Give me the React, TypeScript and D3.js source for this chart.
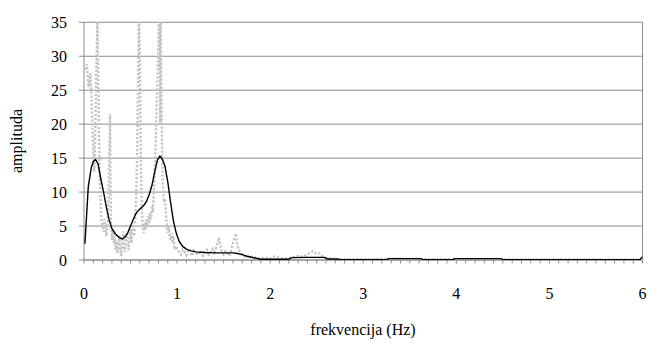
import React from "react";
import * as d3 from "d3";

const xTicks = [0, 1, 2, 3, 4, 5, 6];
const yTicks = [0, 5, 10, 15, 20, 25, 30, 35];

// smoothed spectrum (black)
const smoothSpectrum: [number, number][] = [
  [0.01, 2.4], [0.046, 10.8], [0.08, 13.7], [0.1, 14.5], [0.125, 14.8], [0.15, 14.2], [0.18, 12], [0.21, 10],
  [0.24, 7.8], [0.27, 5.9], [0.3, 4.6], [0.34, 3.8], [0.38, 3.3], [0.41, 3.1], [0.44, 3.4], [0.47, 4],
  [0.5, 5], [0.53, 6], [0.56, 6.9], [0.6, 7.5], [0.64, 8], [0.67, 8.6], [0.7, 9.6], [0.73, 11],
  [0.76, 13], [0.79, 14.8], [0.815, 15.3], [0.84, 14.9], [0.87, 13.8], [0.9, 11.5], [0.93, 8.5], [0.96, 5.8],
  [0.99, 4], [1.02, 2.8], [1.06, 2], [1.1, 1.6], [1.15, 1.35], [1.2, 1.2], [1.3, 1.1], [1.4, 1.05],
  [1.5, 1.05], [1.6, 1.05], [1.65, 0.95], [1.7, 0.8], [1.75, 0.55], [1.8, 0.4], [1.85, 0.25], [1.9, 0.12],
  [2.0, 0.1], [2.2, 0.1], [2.23, 0.35], [2.4, 0.38], [2.58, 0.38], [2.62, 0.15], [2.72, 0.15], [2.76, 0.03],
  [3.25, 0.03], [3.27, 0.2], [3.62, 0.2], [3.65, 0.03], [3.96, 0.03], [3.98, 0.2], [4.48, 0.2], [4.51, 0.03],
  [5.97, 0.03], [6.0, 0.5],
];

// raw spectrum (grey dotted)
const rawSpectrum: [number, number][] = [
  [0.02, 28], [0.03, 28.8], [0.04, 27], [0.05, 25.5], [0.06, 26.5], [0.07, 27.5], [0.08, 24], [0.09, 20],
  [0.1, 16], [0.11, 13], [0.12, 18], [0.13, 26], [0.14, 33], [0.145, 36], [0.15, 30], [0.16, 20],
  [0.17, 12], [0.18, 8], [0.19, 5.5], [0.2, 5], [0.21, 4.2], [0.22, 6], [0.23, 4.5], [0.24, 3.5],
  [0.25, 5], [0.26, 8], [0.27, 15], [0.28, 21.5], [0.285, 12], [0.29, 5], [0.3, 3], [0.31, 4.5],
  [0.32, 2.5], [0.33, 3.5], [0.34, 1.5], [0.35, 2.8], [0.36, 1], [0.37, 2.2], [0.38, 3.5], [0.39, 1.8],
  [0.4, 0.6], [0.41, 2.5], [0.42, 4.2], [0.43, 2], [0.44, 1.2], [0.45, 3], [0.46, 4], [0.47, 2.5],
  [0.48, 1.5], [0.49, 3.2], [0.5, 4.5], [0.51, 2.5], [0.52, 4], [0.53, 5], [0.54, 3.5], [0.55, 6],
  [0.56, 9], [0.57, 15], [0.58, 25], [0.59, 36], [0.6, 30], [0.61, 15], [0.62, 8], [0.63, 5],
  [0.64, 4], [0.65, 5.5], [0.66, 4.5], [0.67, 6], [0.68, 5], [0.69, 6.5], [0.7, 5.5], [0.71, 7],
  [0.72, 6], [0.73, 8], [0.74, 7], [0.75, 10], [0.76, 13], [0.77, 17], [0.78, 22], [0.79, 27],
  [0.8, 32], [0.805, 36], [0.81, 28], [0.815, 36], [0.82, 20], [0.825, 36], [0.83, 28], [0.835, 22],
  [0.84, 15], [0.85, 10], [0.86, 8.5], [0.87, 9], [0.88, 7], [0.89, 5], [0.9, 4], [0.91, 5],
  [0.92, 3.5], [0.93, 3], [0.94, 4], [0.95, 2.5], [0.96, 3.5], [0.97, 2], [0.98, 1.5], [0.99, 2],
  [1.0, 1.5], [1.02, 1.2], [1.04, 0.8], [1.06, 1.5], [1.08, 1.2], [1.1, 0.7], [1.12, 1.3], [1.14, 1],
  [1.16, 0.6], [1.18, 1.4], [1.2, 1.1], [1.22, 0.7], [1.24, 1.3], [1.26, 1], [1.28, 0.6], [1.3, 1.2],
  [1.32, 1.5], [1.34, 0.8], [1.36, 1.2], [1.38, 1.6], [1.4, 1.1], [1.42, 1.8], [1.44, 2.8], [1.45, 3.3],
  [1.46, 2.5], [1.48, 1.2], [1.5, 0.8], [1.52, 1.3], [1.54, 1], [1.56, 0.6], [1.58, 1.4], [1.6, 2.5],
  [1.62, 3.5], [1.63, 3.9], [1.64, 2.8], [1.66, 1.5], [1.68, 1.2], [1.7, 0.8], [1.72, 0.5], [1.75, 0.7],
  [1.78, 0.3], [1.8, 0.5], [1.85, 0.3], [1.9, 0.2], [1.95, 0.3], [2.0, 0.2], [2.05, 0.5], [2.1, 0.3],
  [2.15, 0.2], [2.2, 0.3], [2.25, 0.4], [2.3, 0.6], [2.35, 0.5], [2.4, 0.8], [2.43, 1.1], [2.46, 1.3],
  [2.5, 0.9], [2.53, 1], [2.56, 0.6], [2.6, 0.3], [2.7, 0.1], [3.0, 0.1], [3.3, 0.2], [3.5, 0.15],
  [4.0, 0.1], [6.0, 0.05],
];

const W = 649;
const H = 343;
const FONT = '"Liberation Serif", "DejaVu Serif", "Times New Roman", serif';

export default function App() {
  const x = d3.scaleLinear().domain([0, 6]).range([84, 642.5]);
  const y = d3.scaleLinear().domain([0, 35]).range([260, 22.3]);
  const line = d3
    .line<[number, number]>()
    .x((d) => x(d[0]))
    .y((d) => y(d[1]));
  const minor = d3.range(0, 61).map((i) => i / 10);
  const [x0, x1] = x.range();
  const [y0, y1] = y.range();
  const ts = { fontFamily: FONT, fontSize: "16px" } as React.CSSProperties;

  return (
    <svg
      width={W}
      height={H}
      style={{ position: "absolute", left: 0, top: 0, background: "#fff" }}
    >
      <defs>
        <clipPath id="plot">
          <rect x={x0} y={y1} width={x1 - x0} height={y0 - y1} />
        </clipPath>
      </defs>
      {yTicks.map((t) => (
        <line key={"g" + t} x1={x0} x2={x1} y1={y(t)} y2={y(t)} stroke="#8c8c8c" strokeWidth={1} />
      ))}
      <line x1={x1} x2={x1} y1={y1} y2={y0} stroke="#8c8c8c" strokeWidth={1} />
      <line x1={x0} x2={x0} y1={y1} y2={y0} stroke="#8c8c8c" strokeWidth={1} />
      {yTicks.map((t) => (
        <line key={"yt" + t} x1={x0 - 5} x2={x0} y1={y(t)} y2={y(t)} stroke="#8c8c8c" strokeWidth={1} />
      ))}
      {minor.map((t) => (
        <line key={"xt" + t} x1={x(t)} x2={x(t)} y1={y0} y2={y0 + 3.5} stroke="#8c8c8c" strokeWidth={1} />
      ))}
      <line x1={x0} x2={x1} y1={y0} y2={y0} stroke="#8c8c8c" strokeWidth={1} />
      <g clipPath="url(#plot)">
        <path
          d={line(rawSpectrum) || ""}
          fill="none"
          stroke="#c4c4c4"
          strokeWidth={2.4}
          strokeDasharray="2.2 1.8"
        />
        <path d={line(smoothSpectrum) || ""} fill="none" stroke="#000" strokeWidth={1.4} />
      </g>
      {yTicks.map((t) => (
        <text key={"yl" + t} x={67} y={y(t) + 5.5} textAnchor="end" style={ts} fill="#000">
          {t}
        </text>
      ))}
      {xTicks.map((t) => (
        <text key={"xl" + t} x={x(t)} y={299} textAnchor="middle" style={ts} fill="#000">
          {t}
        </text>
      ))}
      <text x={363} y={335} textAnchor="middle" style={ts} fill="#000">
        frekvencija (Hz)
      </text>
      <text transform="translate(22,141) rotate(-90)" textAnchor="middle" style={ts} fill="#000">
        amplituda
      </text>
    </svg>
  );
}
